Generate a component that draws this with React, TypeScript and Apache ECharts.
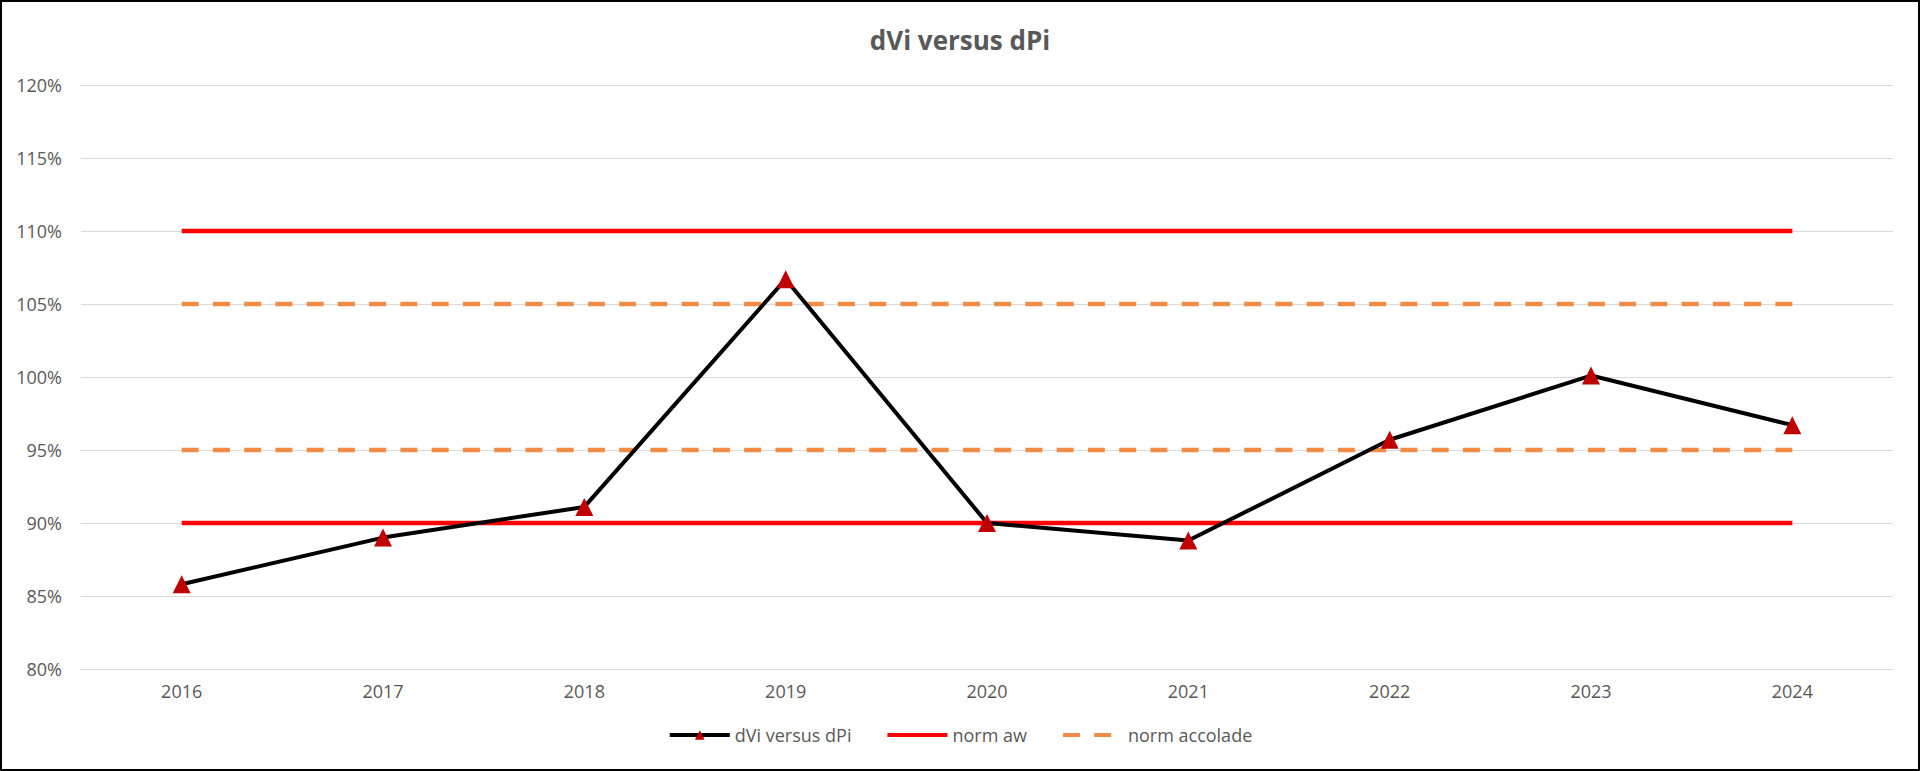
import React, { useEffect, useRef } from "react";
import * as echarts from "echarts";

const years = ["2016", "2017", "2018", "2019", "2020", "2021", "2022", "2023", "2024"];
const dviValues = [0.858, 0.89, 0.911, 1.067, 0.9, 0.888, 0.957, 1.001, 0.967];
const normAwUpper = [1.1, 1.1, 1.1, 1.1, 1.1, 1.1, 1.1, 1.1, 1.1];
const normAwLower = [0.9, 0.9, 0.9, 0.9, 0.9, 0.9, 0.9, 0.9, 0.9];
const normAccUpper = [1.05, 1.05, 1.05, 1.05, 1.05, 1.05, 1.05, 1.05, 1.05];
const normAccLower = [0.95, 0.95, 0.95, 0.95, 0.95, 0.95, 0.95, 0.95, 0.95];
const legendNames = ["dVi versus dPi", "norm aw", "norm accolade"];

const FONT = "'Open Sans', sans-serif";
const TEXT = "#595959";
const GRID = "#d9d9d9";
const ORANGE = "#F08C45";

export default function App() {
  const ref = useRef<HTMLDivElement>(null);
  useEffect(() => {
    if (!ref.current) return;
    const chart = echarts.init(ref.current, undefined, { renderer: "svg" });
    const flat = (name: string, data: number[], color: string, type: any) => ({
      name,
      type: "line",
      data,
      symbol: "none",
      showSymbol: false,
      lineStyle: { color, width: 4.5, type, cap: "butt" },
      itemStyle: { color },
      z: 2,
    });
    chart.setOption({
      animation: false,
      backgroundColor: "#ffffff",
      textStyle: { fontFamily: FONT },
      title: {
        text: "dVi versus dPi",
        left: "center",
        top: 27,
        padding: 0,
        textStyle: { color: TEXT, fontSize: 26, fontWeight: "bold", fontFamily: FONT },
      },
      legend: {
        data: [
          { name: legendNames[0] },
          { name: legendNames[1], itemStyle: { opacity: 0 } },
          { name: legendNames[2], itemStyle: { opacity: 0 } },
        ],
        left: "center",
        top: 721,
        itemWidth: 60,
        itemHeight: 12,
        itemGap: 34,
        lineStyle: { width: 4 },
        textStyle: { color: TEXT, fontSize: 18, fontFamily: FONT },
      },
      grid: { left: 81, right: 27, top: 85, bottom: 102, containLabel: false },
      xAxis: {
        type: "category",
        data: years,
        boundaryGap: true,
        axisTick: { show: false },
        axisLine: { lineStyle: { color: GRID, width: 1 } },
        axisLabel: { color: TEXT, fontSize: 18, margin: 13, fontFamily: FONT },
      },
      yAxis: {
        type: "value",
        min: 0.8,
        max: 1.2,
        interval: 0.05,
        axisLine: { show: false },
        axisTick: { show: false },
        splitLine: { lineStyle: { color: GRID, width: 1 } },
        axisLabel: {
          color: TEXT,
          fontSize: 18,
          margin: 19,
          fontFamily: FONT,
          formatter: (v: number) => Math.round(v * 100) + "%",
        },
      },
      series: [
        flat("norm aw", normAwUpper, "#FF0000", "solid"),
        flat("norm aw", normAwLower, "#FF0000", "solid"),
        flat("norm accolade", normAccUpper, ORANGE, [17, 14.25]),
        flat("norm accolade", normAccLower, ORANGE, [17, 14.25]),
        {
          name: "dVi versus dPi",
          type: "line",
          data: dviValues,
          symbol: "triangle",
          symbolSize: 18,
          lineStyle: { color: "#000000", width: 4 },
          itemStyle: { color: "#C00000" },
          z: 3,
        },
      ],
      graphic: [
        {
          type: "rect",
          shape: { x: 1, y: 1, width: 1918, height: 769 },
          style: { fill: "none", stroke: "#000000", lineWidth: 2 },
          silent: true,
          z: 100,
        },
      ],
    });
    return () => chart.dispose();
  }, []);
  return (
    <div style={{ position: "fixed", left: 0, top: 0, width: 1920, height: 771 }}>
      <div ref={ref} style={{ width: 1920, height: 771 }} />
    </div>
  );
}
